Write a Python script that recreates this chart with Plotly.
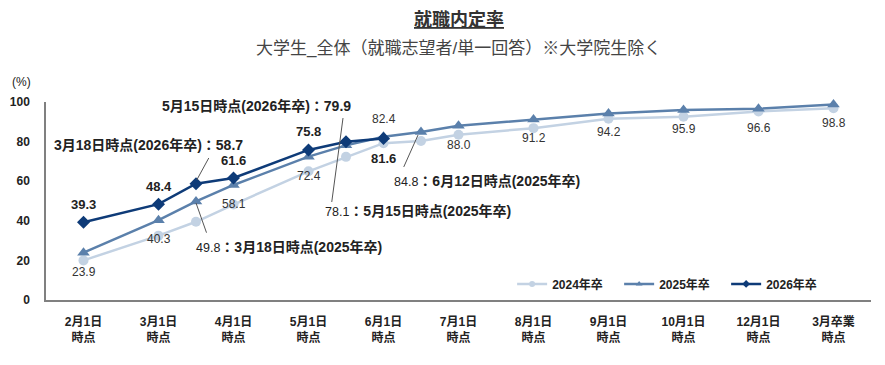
import plotly.graph_objects as go

# ---------------- data ----------------
categories = ["2月1日<br>時点", "3月1日<br>時点", "4月1日<br>時点", "5月1日<br>時点",
              "6月1日<br>時点", "7月1日<br>時点", "8月1日<br>時点", "9月1日<br>時点",
              "10月1日<br>時点", "12月1日<br>時点", "3月卒業<br>時点"]
cat_pos = list(range(len(categories)))

# survey dates; intermediate dates sit midway between category ticks
dates = ["2月1日", "3月1日", "3月18日", "4月1日", "5月1日", "5月15日", "6月1日",
         "6月12日", "7月1日", "8月1日", "9月1日", "10月1日", "12月1日", "3月卒業"]
x_pos = [0, 1, 1.5, 2, 3, 3.5, 4, 4.5, 5, 6, 7, 8, 9, 10]

y2024 = [20.0, 32.5, 39.5, 48.2, 65.0, 72.3, 79.2, 80.3, 83.5, 86.8, 91.5, 92.6, 95.2, 96.9]
y2025 = [23.9, 40.3, 49.8, 58.1, 72.4, 78.1, 82.4, 84.8, 88.0, 91.2, 94.2, 95.9, 96.6, 98.8]
y2026 = [39.3, 48.4, 58.7, 61.6, 75.8, 79.9, 81.6]

series_names = ["2024年卒", "2025年卒", "2026年卒"]
y_ticks = [0, 20, 40, 60, 80, 100]

# ---------------- styles ----------------
C24, C25, C26 = "#c3d2e3", "#5b80ab", "#0e3b78"
FONT = "Liberation Sans, Arial, Noto Sans CJK JP, sans-serif"
LW = 2.5

fig = go.Figure()
fig.add_trace(go.Scatter(x=x_pos, y=y2024, mode="lines+markers", name=series_names[0],
                         line=dict(color=C24, width=LW),
                         marker=dict(symbol="circle", size=10, color=C24),
                         cliponaxis=False, showlegend=False))
fig.add_trace(go.Scatter(x=x_pos, y=y2025, mode="lines+markers", name=series_names[1],
                         line=dict(color=C25, width=LW),
                         marker=dict(symbol="triangle-up", size=11, color=C25),
                         cliponaxis=False, showlegend=False))
fig.add_trace(go.Scatter(x=x_pos[:len(y2026)], y=y2026, mode="lines+markers", name=series_names[2],
                         line=dict(color=C26, width=LW),
                         marker=dict(symbol="diamond", size=10, color=C26),
                         cliponaxis=False, showlegend=False))

# legend-only entries with small markers
for nm, col, sym in zip(series_names, [C24, C25, C26], ["circle", "triangle-up", "diamond"]):
    fig.add_trace(go.Scatter(x=[None], y=[None], mode="lines+markers", name=nm,
                             line=dict(color=col, width=LW),
                             marker=dict(symbol=sym, size=6, color=col)))

ann = []
# 2026 bold value labels
above26 = {0, 1, 3, 4}
below26 = {6}
for i, v in enumerate(y2026):
    if i in above26 or i in below26:
        ann.append(dict(x=x_pos[i], y=v, xref="x", yref="y", showarrow=False,
                        text=f"<b>{v:.1f}</b>", yshift=18 if i in above26 else -20,
                        font=dict(family=FONT, size=13, color="#222")))
# 2025 value labels
below25 = {0, 1, 3, 4, 8, 9, 10, 11, 12, 13}
above25 = {6}
for i, v in enumerate(y2025):
    if i in below25 or i in above25:
        ann.append(dict(x=x_pos[i], y=v, xref="x", yref="y", showarrow=False,
                        text=f"{v:.1f}", yshift=-19 if i in below25 else 18,
                        font=dict(family=FONT, size=12, color="#333")))

# callout labels
JP = dict(family=FONT, size=14, color="#222")
ann += [
    dict(x=2.153, y=78.3, xref="x", yref="y", xanchor="right", showarrow=False,
         text=f"<b>{dates[2]}時点(2026年卒)：</b><b>{y2026[2]:.1f}</b>",
         font=JP),
    dict(x=3.593, y=98.0, xref="x", yref="y", xanchor="right", showarrow=False,
         text=f"<b>{dates[5]}時点(2026年卒)：</b><b>{y2026[5]:.1f}</b>",
         font=JP),
    dict(x=4.113, y=60.1, xref="x", yref="y", xanchor="left", showarrow=False,
         text=f"<span style='font-size:12.5px'>{y2025[7]:.1f}</span><b>：{dates[7]}時点(2025年卒)</b>",
         font=JP),
    dict(x=3.193, y=45.0, xref="x", yref="y", xanchor="left", showarrow=False,
         text=f"<span style='font-size:12.5px'>{y2025[5]:.1f}</span><b>：{dates[5]}時点(2025年卒)</b>",
         font=JP),
    dict(x=1.473, y=26.8, xref="x", yref="y", xanchor="left", showarrow=False,
         text=f"<span style='font-size:12.5px'>{y2025[2]:.1f}</span><b>：{dates[2]}時点(2025年卒)</b>",
         font=JP),
]

# titles
ann += [
    dict(x=0.5, y=1.415, xref="paper", yref="paper", showarrow=False, xanchor="center", yanchor="middle",
         text="<b><u>就職内定率</u></b>", font=dict(family=FONT, size=18, color="#333")),
    dict(x=0.5, y=1.275, xref="paper", yref="paper", showarrow=False, xanchor="center", yanchor="middle",
         text="大学生_全体（就職志望者/単一回答）※大学院生除く",
         font=dict(family=FONT, size=17, color="#444")),
    dict(x=-0.03, y=1.10, xref="paper", yref="paper", showarrow=False, xanchor="center", yanchor="middle",
         text="(%)", font=dict(family=FONT, size=12, color="#222")),
]

# leader lines
leader = dict(color="#555", width=1)
shapes = [
    dict(type="line", xref="x", yref="y", x0=1.67, y0=71.7, x1=1.51, y1=60.6, line=leader),
    dict(type="line", xref="x", yref="y", x0=1.50, y0=49.0, x1=1.64, y1=34.0, line=leader),
    dict(type="line", xref="x", yref="y", x0=3.46, y0=91.9, x1=3.31, y1=49.5, line=leader),
    dict(type="line", xref="x", yref="y", x0=4.46, y0=83.3, x1=4.27, y1=67.2, line=leader),
]

# page body has an 8px default margin: size the figure to fill the rest of the window
fig.update_layout(
    width=877, height=357,
    margin=dict(l=38, r=14, t=94, b=65, autoexpand=False),
    paper_bgcolor="white", plot_bgcolor="white",
    font=dict(family=FONT, size=12, color="#222"),
    annotations=ann, shapes=shapes,
    showlegend=True,
    legend=dict(orientation="h", x=0.565, y=0.081, xanchor="left", yanchor="middle",
                entrywidth=62, entrywidthmode="pixels", itemwidth=30,
                font=dict(family=FONT, size=12, color="#222", weight="bold"),
                bgcolor="rgba(0,0,0,0)"),
    xaxis=dict(range=[-0.5, 10.5], tickmode="array", tickvals=cat_pos, ticktext=categories,
               showline=True, linecolor="#808080", linewidth=2, showgrid=False, zeroline=False,
               ticks="", ticklabelstandoff=10,
               tickfont=dict(family=FONT, size=12, color="#222", weight="bold")),
    yaxis=dict(range=[0, 100], tickmode="array", tickvals=y_ticks,
               showline=True, linecolor="#808080", linewidth=1.5, showgrid=False, zeroline=False,
               ticks="", ticklabelstandoff=12,
               tickfont=dict(family=FONT, size=12, color="#222", weight="bold")),
)

fig.write_html("out.html")
